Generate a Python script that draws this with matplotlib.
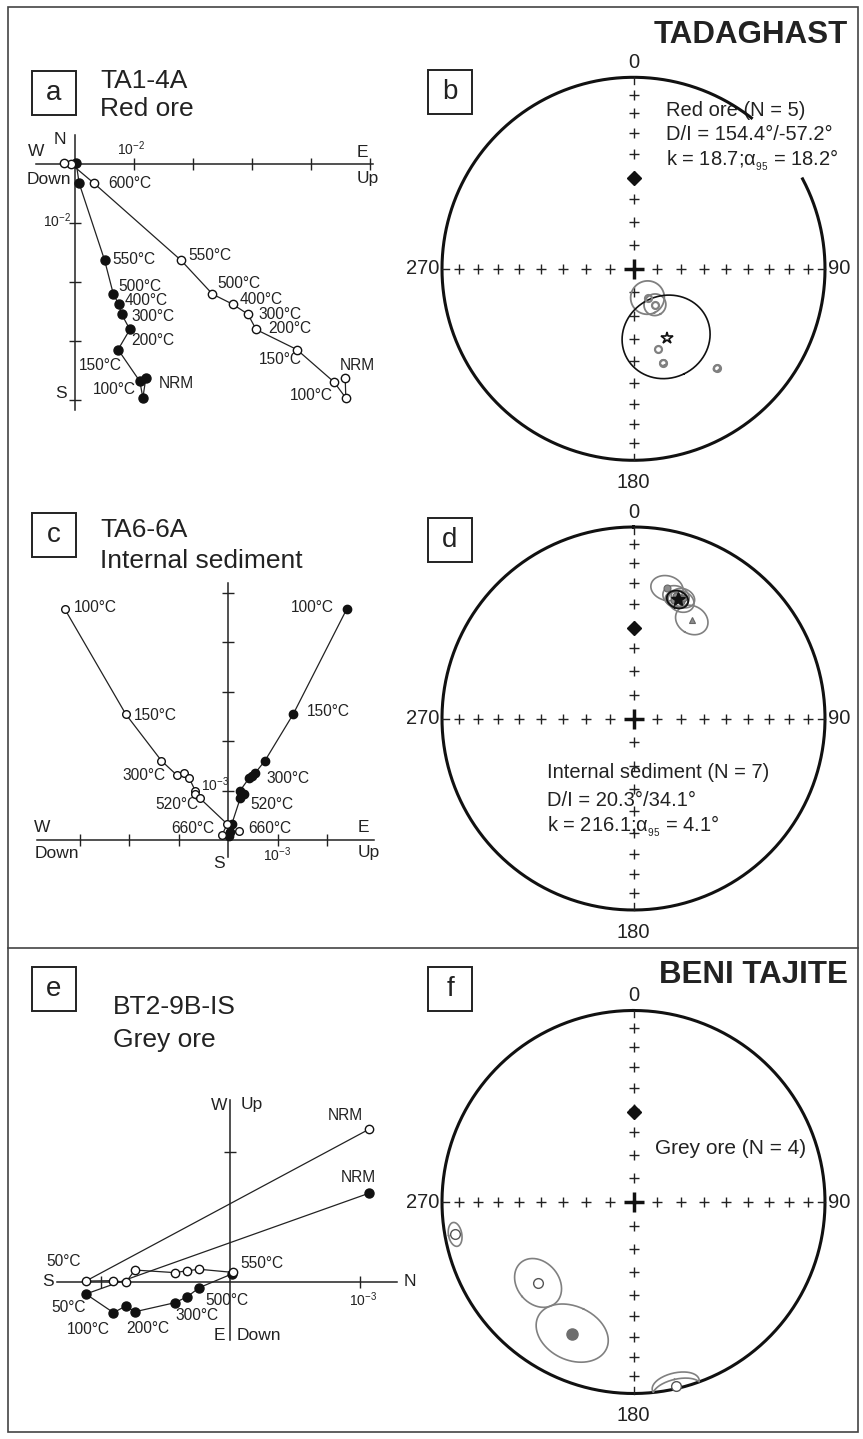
import numpy as np
import matplotlib.pyplot as plt
from matplotlib.patches import Rectangle

plt.rcParams['font.family'] = ['Liberation Sans', 'DejaVu Sans']
plt.rcParams['mathtext.fontset'] = 'custom'
plt.rcParams['mathtext.rm'] = 'Liberation Sans'
plt.rcParams['mathtext.default'] = 'regular'

W, H = 863, 1439

# ---- Zijderveld data (a: units 1e-2, c and e: units 1e-3) ----
# a  TA1-4A red ore
a_h_x = [1.20, 1.15, 1.10, 0.73, 0.93, 0.79, 0.74, 0.65, 0.50, 0.07, 0.02]
a_h_y = [-3.63, -3.96, -3.68, -3.14, -2.80, -2.54, -2.37, -2.20, -1.62, -0.32, 0.02]
a_v_x = [4.58, 4.59, 4.39, 3.76, 3.07, 2.93, 2.67, 2.33, 1.80, 0.32, -0.06, -0.18]
a_v_y = [-3.63, -3.96, -3.69, -3.14, -2.80, -2.54, -2.37, -2.20, -1.63, -0.32, 0.00, 0.02]

# c  TA6-6A internal sediment
c_v_x = [-3.30, -2.07, -1.35, -1.04, -0.89, -0.79, -0.67, -0.67, -0.57, -0.02, -0.13, 0.22]
c_v_y = [4.66, 2.54, 1.60, 1.31, 1.35, 1.25, 1.00, 0.93, 0.84, 0.32, 0.10, 0.19]
c_h_x = [2.39, 1.31, 0.74, 0.54, 0.47, 0.42, 0.24, 0.32, 0.24, 0.07, 0.03, 0.02]
c_h_y = [4.66, 2.54, 1.60, 1.35, 1.30, 1.25, 1.00, 0.93, 0.84, 0.32, 0.17, 0.08]

# e  BT2-9B-IS grey ore
e_v_x = [1.073, -1.113, -0.90, -0.805, -0.734, -0.425, -0.33, -0.237, 0.021]
e_v_y = [1.177, 0.005, 0.008, -0.005, 0.09, 0.07, 0.085, 0.096, 0.072]
e_h_x = [1.073, -1.113, -0.90, -0.805, -0.734, -0.425, -0.33, -0.237, 0.015]
e_h_y = [0.683, -0.095, -0.239, -0.188, -0.232, -0.162, -0.116, -0.046, 0.06]

# ---- stereonet data (dec, inc, a95) ----
b_dec = [154.1, 149.2, 162.8, 162.4, 140.1]
b_inc = [-76.4, -72.2, -54.0, -47.3, -32.8]
b_a95 = [7.1, 4.6, 0.0, 1.3, 1.3]
b_mean = (154.4, -57.2, 18.2)

d_dec = [14.4, 19.2, 22.1, 20.3, 22.3, 19.0, 30.6]
d_inc = [30.3, 32.9, 34.3, 33.7, 32.5, 34.7, 39.9]
d_a95 = [6.0, 5.0, 5.0, 4.0, 4.5, 3.5, 6.5]
d_mark = ['o', 'o', 'o', 'o', 'o', 'o', '^']
d_mean = (20.3, 34.1, 4.1)

f_dec = [259.7, 229.7, 205.1, 167.0]
f_inc = [-5.9, -34.7, 24.8, -1.8]
f_a95 = [3.8, 10.0, 13.5, 7.3]

ref_dir = (0.0, 51.0)

fig = plt.figure(figsize=(W / 100, H / 100), dpi=100)
bg = fig.add_axes([0, 0, 1, 1])
bg.set_xlim(0, W)
bg.set_ylim(H, 0)
bg.axis('off')


def t(x, y, s, size=11, ha='left', va='center', **kw):
    bg.text(x, y, s, fontsize=size, ha=ha, va=va, color='#222222', **kw)


# frame
bg.add_patch(Rectangle((8, 7), 850, 1425, fill=False, lw=1.2, ec='#444444'))
bg.plot([8, 858], [947.5, 947.5], color='#444444', lw=1.2)
for (bx, by, s) in [(32, 71, 'a'), (428, 70, 'b'), (32, 513, 'c'), (428, 518, 'd'),
                    (32, 967, 'e'), (428, 967, 'f')]:
    bg.add_patch(Rectangle((bx, by), 44, 44, fill=False, lw=1.4, ec='#222222'))
    t(bx + 22, by + 22, s, size=20, ha='center')

t(848, 35, 'TADAGHAST', size=22.5, ha='right', weight='bold')
t(848, 975, 'BENI TAJITE', size=22.5, ha='right', weight='bold')

t(100, 80.5, 'TA1-4A', size=19)
t(100, 109, 'Red ore', size=19)
t(100, 530, 'TA6-6A', size=19)
t(100, 561, 'Internal sediment', size=19)
t(113, 1007, 'BT2-9B-IS', size=19)
t(113, 1040, 'Grey ore', size=19)


def zij_axes(ox, oy, s, left, top, right, bottom, xt, yt):
    ax = fig.add_axes([left / W, 1 - bottom / H, (right - left) / W, (bottom - top) / H])
    ax.set_xlim((left - ox) / s, (right - ox) / s)
    ax.set_ylim((oy - bottom) / s, (oy - top) / s)
    ax.patch.set_visible(False)
    ax.spines['top'].set_visible(False)
    ax.spines['right'].set_visible(False)
    ax.spines['bottom'].set_position(('data', 0))
    ax.spines['left'].set_position(('data', 0))
    for sp in ('bottom', 'left'):
        ax.spines[sp].set_linewidth(1.1)
        ax.spines[sp].set_color('#222222')
    ax.set_xticks(xt)
    ax.set_yticks(yt)
    ax.tick_params(direction='inout', length=8, width=1.0, color='#222222',
                   labelbottom=False, labelleft=False)
    return ax


def zij_plot(ax, hx, hy, vx, vy, ms=6):
    ax.plot(hx, hy, '-', color='#222222', lw=0.9, clip_on=False, zorder=2)
    ax.plot(hx, hy, 'o', ms=ms + 0.5, mfc='#111111', mec='#111111', clip_on=False, zorder=3)
    ax.plot(vx, vy, '-', color='#222222', lw=0.9, clip_on=False, zorder=2)
    ax.plot(vx, vy, 'o', ms=ms, mfc='white', mec='#111111', mew=1.0, clip_on=False, zorder=4)


tl = 11.2  # temperature label size

# panel a
ax_a = zij_axes(75, 164.3, 59, 36, 135, 373, 410, [1, 2, 3, 4, 5], [-1, -2, -3, -4])
zij_plot(ax_a, a_h_x, a_h_y, a_v_x, a_v_y)
t(36, 152, 'W', 12.5, ha='center')
t(60, 139, 'N', 12.5, ha='center')
t(131, 149, '10$^{-2}$', 10, ha='center')
t(49, 180, 'Down', 12.5, ha='center')
t(362, 152.7, 'E', 12.5, ha='center')
t(368, 179, 'Up', 12.5, ha='center')
t(57, 221, '10$^{-2}$', 10, ha='center')
t(61, 393, 'S', 12.5, ha='center')
for (s, x, y) in [('600°C', 108, 183.3), ('550°C', 112, 260), ('550°C', 188, 255.7),
                  ('500°C', 118, 286.7), ('400°C', 125, 300.7), ('300°C', 131, 316.7),
                  ('200°C', 131, 340.7), ('150°C', 79, 365), ('100°C', 93, 389.3),
                  ('NRM', 159, 384), ('500°C', 217, 284), ('400°C', 240, 299.5),
                  ('300°C', 258, 314.5), ('200°C', 268, 328.5), ('150°C', 259, 360),
                  ('100°C', 290, 395.7), ('NRM', 340, 366)]:
    t(x, y, s, tl)

# panel c
ax_c = zij_axes(228.3, 840, 49.5, 36.7, 582.7, 374, 857, [-3, -2, -1, 1, 2], [1, 2, 3, 4, 5])
zij_plot(ax_c, c_h_x, c_h_y, c_v_x, c_v_y, ms=5.5)
t(42, 828, 'W', 12.5, ha='center')
t(363, 828, 'E', 12.5, ha='center')
t(57, 853, 'Down', 12.5, ha='center')
t(369, 853, 'Up', 12.5, ha='center')
t(219, 863, 'S', 12.5, ha='center')
t(277, 855, '10$^{-3}$', 10, ha='center')
t(215, 785, '10$^{-3}$', 10, ha='center')
for (s, x, y) in [('100°C', 74, 607.3), ('100°C', 291, 607.3), ('150°C', 134, 715.7),
                  ('150°C', 307, 711.7), ('300°C', 122.7, 776), ('300°C', 266, 778.3),
                  ('520°C', 155.7, 804.3), ('520°C', 250.7, 804.3), ('660°C', 171.7, 828.3),
                  ('660°C', 248.3, 828.3)]:
    t(x, y, s, tl)

# panel e
ax_e = zij_axes(230, 1281.7, 129.5, 56.7, 1100, 396.7, 1340, [-1, 1], [1])
zij_plot(ax_e, e_h_x, e_h_y, e_v_x, e_v_y)
t(48.3, 1281.7, 'S', 12.5, ha='center')
t(410, 1281.7, 'N', 12.5, ha='center')
t(219, 1105, 'W', 12.5, ha='center')
t(252, 1105, 'Up', 12.5, ha='center')
t(219, 1336, 'E', 12.5, ha='center')
t(259, 1336, 'Down', 12.5, ha='center')
t(363, 1300, '10$^{-3}$', 10, ha='center')
for (s, x, y) in [('NRM', 345, 1115), ('NRM', 358.3, 1177.3), ('50°C', 64, 1261),
                  ('50°C', 68.3, 1307.3), ('100°C', 88.3, 1330), ('200°C', 148.3, 1328.3),
                  ('300°C', 196.7, 1316), ('500°C', 226.7, 1300.7), ('550°C', 261.7, 1263.3)]:
    t(x, y, s, tl, ha='center')


# ---- stereonets ----
R = 191.5


def proj(dec, inc):
    d = np.radians(np.asarray(dec, float))
    i = np.radians(np.abs(np.asarray(inc, float)))
    r = np.sqrt(2) * np.sin((np.pi / 2 - i) / 2)
    return r * np.sin(d), r * np.cos(d)


def cone(dec, inc, a95, n=160):
    d, i, a = np.radians([dec, inc, a95])
    v = np.array([np.cos(i) * np.cos(d), np.cos(i) * np.sin(d), np.sin(i)])
    u = np.array([-np.sin(i) * np.cos(d), -np.sin(i) * np.sin(d), np.cos(i)])
    w = np.cross(v, u)
    tt = np.linspace(0, 2 * np.pi, n)
    p = np.cos(a) * v[:, None] + np.sin(a) * (np.outer(u, np.cos(tt)) + np.outer(w, np.sin(tt)))
    dd = np.degrees(np.arctan2(p[1], p[0]))
    ii = np.degrees(np.arcsin(np.clip(p[2], -1, 1)))
    return proj(dd, ii)


def stereo_axes(cx, cy, gap=None):
    pad = 25
    ax = fig.add_axes([(cx - R - pad) / W, 1 - (cy + R + pad) / H, (2 * R + 2 * pad) / W,
                       (2 * R + 2 * pad) / H])
    lim = (R + pad) / R
    ax.set_xlim(-lim, lim)
    ax.set_ylim(-lim, lim)
    ax.axis('off')
    if gap is None:
        th = np.radians(np.linspace(0, 360, 500))
    else:
        th = np.radians(np.linspace(gap[1], gap[0] + 360, 500))
    ax.plot(np.sin(th), np.cos(th), color='#111111', lw=2.2, zorder=2)
    incs = np.arange(10, 90, 10)
    for dd in (0, 90, 180, 270):
        x, y = proj(np.full(incs.size, dd), incs)
        ax.plot(x, y, '+', ms=6.5, mew=1.0, color='#222222', zorder=1)
        ex, ey = np.sin(np.radians(dd)), np.cos(np.radians(dd))
        ax.plot([ex, 0.965 * ex], [ey, 0.965 * ey], color='#222222', lw=1.0)
    ax.plot([0], [0], '+', ms=14, mew=2.5, color='#111111', zorder=1)
    x, y = proj([ref_dir[0]], [ref_dir[1]])
    ax.plot(x, y, 'D', ms=7.5, color='#111111', zorder=5)
    t(cx, cy - R - 15, '0', 14.5, ha='center')
    t(cx, cy + R + 22, '180', 14.5, ha='center')
    t(cx - R - 3, cy, '270', 14.5, ha='right')
    t(cx + R + 3, cy, '90', 14.5, ha='left')
    return ax


grey = '#808080'
fs = 14.5

# b
ax_b = stereo_axes(633.5, 268.8, gap=(38, 62))
for dec, inc, a in zip(b_dec, b_inc, b_a95):
    if a > 0:
        x, y = cone(dec, inc, a)
        ax_b.plot(x, y, color=grey, lw=1.3, zorder=3)
x, y = proj(b_dec, b_inc)
ax_b.plot(x, y, 'o', ms=5, mfc='none', mec=grey, mew=1.6, zorder=4)
x, y = cone(*b_mean)
ax_b.plot(x, y, color='#111111', lw=1.2, zorder=3)
x, y = proj([b_mean[0]], [b_mean[1]])
ax_b.plot(x, y, '*', ms=9, mfc='white', mec='#111111', mew=1.2, zorder=6)
t(666, 110, 'Red ore (N = 5)', fs)
t(666, 135, 'D/I = 154.4°/-57.2°', fs)
t(666, 160, 'k = 18.7;α$_{_{95}}$ = 18.2°', fs)

# d
ax_d = stereo_axes(633.5, 718.5)
for dec, inc, a in zip(d_dec, d_inc, d_a95):
    x, y = cone(dec, inc, a)
    ax_d.plot(x, y, color=grey, lw=1.2, zorder=3)
for dec, inc, m in zip(d_dec, d_inc, d_mark):
    x, y = proj([dec], [inc])
    ax_d.plot(x, y, m, ms=5, mfc='#8c8c8c', mec='#666666', mew=0.8, zorder=4)
x, y = cone(*d_mean)
ax_d.plot(x, y, color='#111111', lw=1.3, zorder=5)
x, y = proj([d_mean[0]], [d_mean[1]])
ax_d.plot(x, y, '*', ms=10, color='#111111', zorder=6)
t(547, 773, 'Internal sediment (N = 7)', fs)
t(547, 800, 'D/I = 20.3°/34.1°', fs)
t(547, 826, 'k = 216.1;α$_{_{95}}$ = 4.1°', fs)

# f
ax_f = stereo_axes(633.5, 1202)
for dec, inc, a in zip(f_dec, f_inc, f_a95):
    x, y = cone(dec, inc, a)
    ax_f.plot(x, y, color=grey, lw=1.2, zorder=3)
for dec, inc in zip(f_dec, f_inc):
    x, y = proj([dec], [inc])
    if inc < 0:
        ax_f.plot(x, y, 'o', ms=7, mfc='white', mec='#555555', mew=1.0, zorder=4)
    else:
        ax_f.plot(x, y, 'o', ms=8, mfc='#6e6e6e', mec='#6e6e6e', zorder=4)
t(655, 1148, 'Grey ore (N = 4)', 15)

fig.savefig('out.png', dpi=100)
